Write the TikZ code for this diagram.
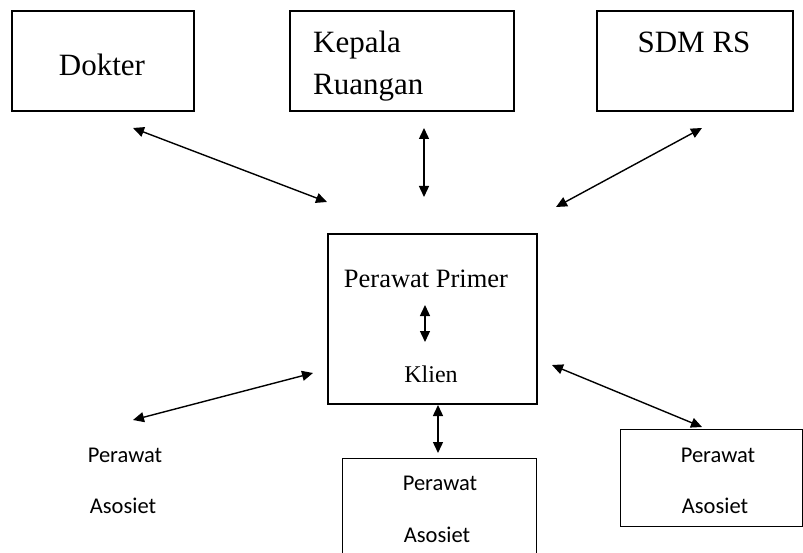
\documentclass[tikz,border=0pt]{standalone}
\usepackage{fontspec}
\setmainfont{Liberation Serif}
\newfontfamily\calib{Carlito}
\usetikzlibrary{arrows.meta}
\tikzset{
  box/.style={draw, line width=#1, inner sep=0pt, anchor=north west},
  box/.default=2.2pt,
  bigtxt/.style={font=\fontsize{31}{36}\selectfont, inner sep=0pt, anchor=base},
  midtxt/.style={font=\fontsize{26.5}{30}\selectfont, inner sep=0pt, anchor=base},
  smtxt/.style={font=\calib\fontsize{22.5}{26}\selectfont, inner sep=0pt, anchor=base},
  biarrow/.style={line width=1.4pt, {Triangle[length=11pt,width=10pt]}-{Triangle[length=11pt,width=10pt]}}
}
\begin{document}
\begin{tikzpicture}[x=1pt,y=-1pt]
\useasboundingbox (0,0) rectangle (803,553);
\clip (0,0) rectangle (803,553);
% boxes
\node[box, minimum width=182pt, minimum height=100pt] (dok) at (11,10) {};
\node[box, minimum width=224pt, minimum height=100pt] (kep) at (289,10) {};
\node[box, minimum width=196pt, minimum height=100pt] (sdm) at (596,10) {};
\node[box=1.7pt, minimum width=209pt, minimum height=170pt] (pp) at (327,233) {};
\node[box=1.3pt, minimum width=194pt, minimum height=120pt] (pa2) at (342,458) {};
\node[box=1.3pt, minimum width=182pt, minimum height=97pt] (pa3) at (620,429) {};
% texts
\node[bigtxt] (dokT) at (102,76) {Dokter};
\node[bigtxt, anchor=base west] (kepT1) at (313,53) {Kepala};
\node[bigtxt, anchor=base west] (kepT2) at (313,95) {Ruangan};
\node[bigtxt] (sdmT) at (694,53) {SDM RS};
\node[midtxt] (ppT) at (426,288) {Perawat Primer};
\node[midtxt, font=\fontsize{24}{28}\selectfont] (klT) at (431,382) {Klien};
\node[smtxt] (pa1a) at (125,462) {Perawat};
\node[smtxt] (pa1b) at (123,513) {Asosiet};
\node[smtxt] (pa2a) at (440,490) {Perawat};
\node[smtxt] (pa2b) at (437,542) {Asosiet};
\node[smtxt] (pa3a) at (718,462) {Perawat};
\node[smtxt] (pa3b) at (715,513) {Asosiet};
% arrow end points
\coordinate (a1s) at (133,128); \coordinate (a1e) at (327,202);
\coordinate (a2s) at (424,128); \coordinate (a2e) at (424,197);
\coordinate (a3s) at (556,207); \coordinate (a3e) at (702,128);
\coordinate (a4s) at (425,305); \coordinate (a4e) at (425,342);
\coordinate (a5s) at (133,420); \coordinate (a5e) at (313,373);
\coordinate (a6s) at (438,405); \coordinate (a6e) at (438,453);
\coordinate (a7s) at (552,365); \coordinate (a7e) at (702,427);
\draw[biarrow] (a1s) -- (a1e);
\draw[biarrow] (a2s) -- (a2e);
\draw[biarrow] (a3s) -- (a3e);
\draw[biarrow] (a4s) -- (a4e);
\draw[biarrow] (a5s) -- (a5e);
\draw[biarrow] (a6s) -- (a6e);
\draw[biarrow] (a7s) -- (a7e);
\end{tikzpicture}
\end{document}
